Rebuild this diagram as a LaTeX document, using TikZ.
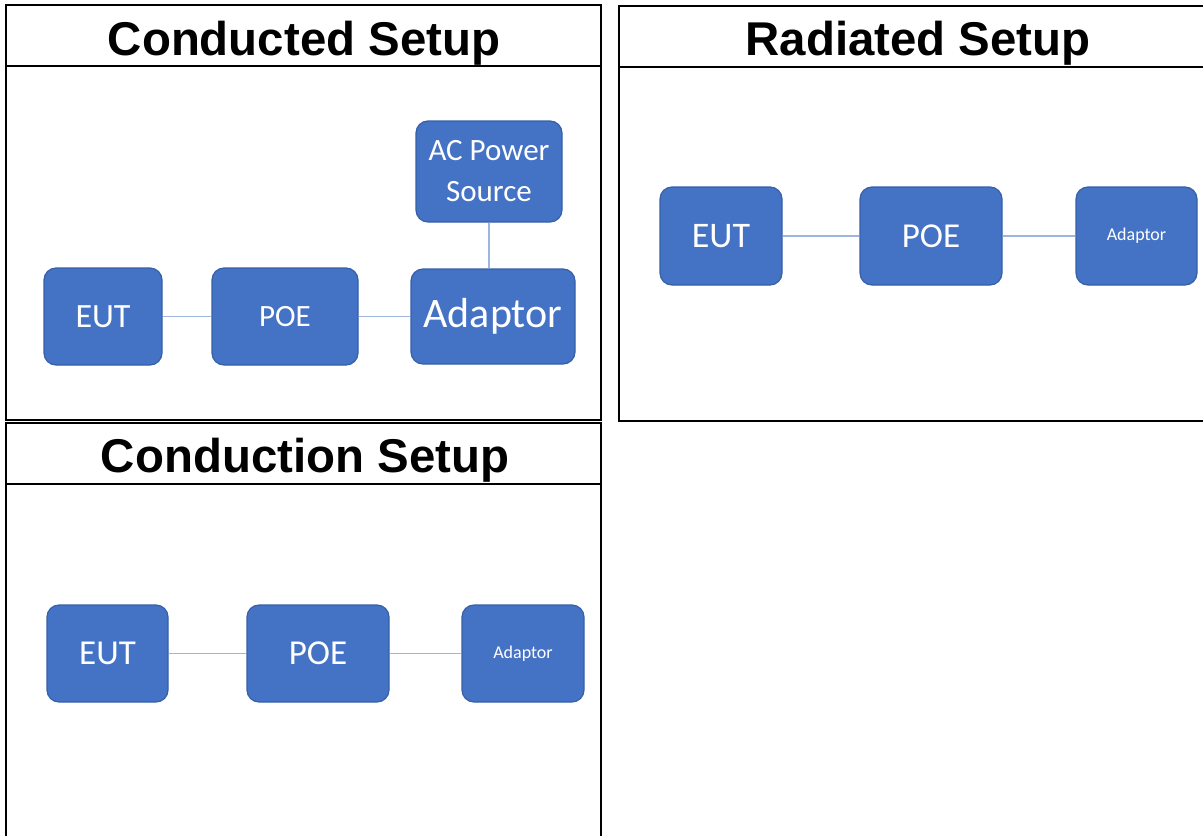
\documentclass[tikz,border=0pt]{standalone}
\usepackage{fontspec}
\setmainfont{Carlito}
\newfontfamily\titlefont{Liberation Sans}
\begin{document}
\begin{tikzpicture}[x=0.5pt, y=-0.5pt,
  block/.style 2 args={draw=blockedge, fill=blockfill, rounded corners=6pt,
    text=white, inner sep=0pt, line width=0.6pt,
    minimum width=#1*0.5pt, minimum height=#2*0.5pt},
  wire/.style={draw=wireblue, line width=0.8pt},
  frame/.style={draw=black, line width=1pt},
  heading/.style={anchor=base, font=\titlefont\bfseries\fontsize{23.7}{28}\selectfont}]

  \definecolor{blockfill}{HTML}{4472C4}
  \definecolor{blockedge}{HTML}{3560A8}
  \definecolor{wireblue}{HTML}{9DB5E0}

  \useasboundingbox (0,0) rectangle (1203,835);

  % Draw the frames first

  \draw[frame] (6,5) rectangle (601,420);
  \draw[frame] (6,66) -- (601,66);
  \node[heading] (condTitle) at (304,55) {Conducted Setup};

  \draw[frame] (619,6) rectangle (1208,421);
  \draw[frame] (619,67) -- (1208,67);
  \node[heading] (radTitle) at (918,55) {Radiated Setup};

  \draw[frame] (6,423) rectangle (601,842);
  \draw[frame] (6,484) -- (601,484);
  \node[heading] (cndTitle) at (305,472) {Conduction Setup};

  % Then the blocks

  \node[block={118}{97}, font=\fontsize{17}{20}\selectfont] (eutA) at (103,316.5) {EUT};
  \node[block={146}{97}, font=\fontsize{15.5}{18}\selectfont] (poeA) at (285,316.5) {POE};
  \node[block={164}{95}, font=\fontsize{21}{24}\selectfont] (adaptorA) at (493,316.5) {Adaptor};
  \node[block={146}{101}, align=center, font=\fontsize{15.5}{20.5}\selectfont] (acA) at (489,171.5) {AC Power\\Source};

  \node[block={122}{98}, font=\fontsize{18}{20}\selectfont] (eutB) at (721,236) {EUT};
  \node[block={142}{98}, font=\fontsize{17.5}{20}\selectfont] (poeB) at (931,236) {POE};
  \node[block={121}{98}, font=\fontsize{9}{11}\selectfont] (adaptorB) at (1136.5,236) {Adaptor};

  \node[block={121}{97}, font=\fontsize{17.5}{20}\selectfont] (eutC) at (107.5,653.5) {EUT};
  \node[block={142}{97}, font=\fontsize{17.5}{20}\selectfont] (poeC) at (318,653.5) {POE};
  \node[block={122}{97}, font=\fontsize{9}{11}\selectfont] (adaptorC) at (523,653.5) {Adaptor};

  % Connect them

  \draw[wire] (eutA) -- (poeA);
  \draw[wire] (poeA) -- (adaptorA);
  \draw[wire] (acA.south) -- (acA.south |- adaptorA.north);

  \draw[wire] (eutB) -- (poeB);
  \draw[wire] (poeB) -- (adaptorB);

  \draw[wire] (eutC) -- (poeC);
  \draw[wire] (poeC) -- (adaptorC);
\end{tikzpicture}
\end{document}
